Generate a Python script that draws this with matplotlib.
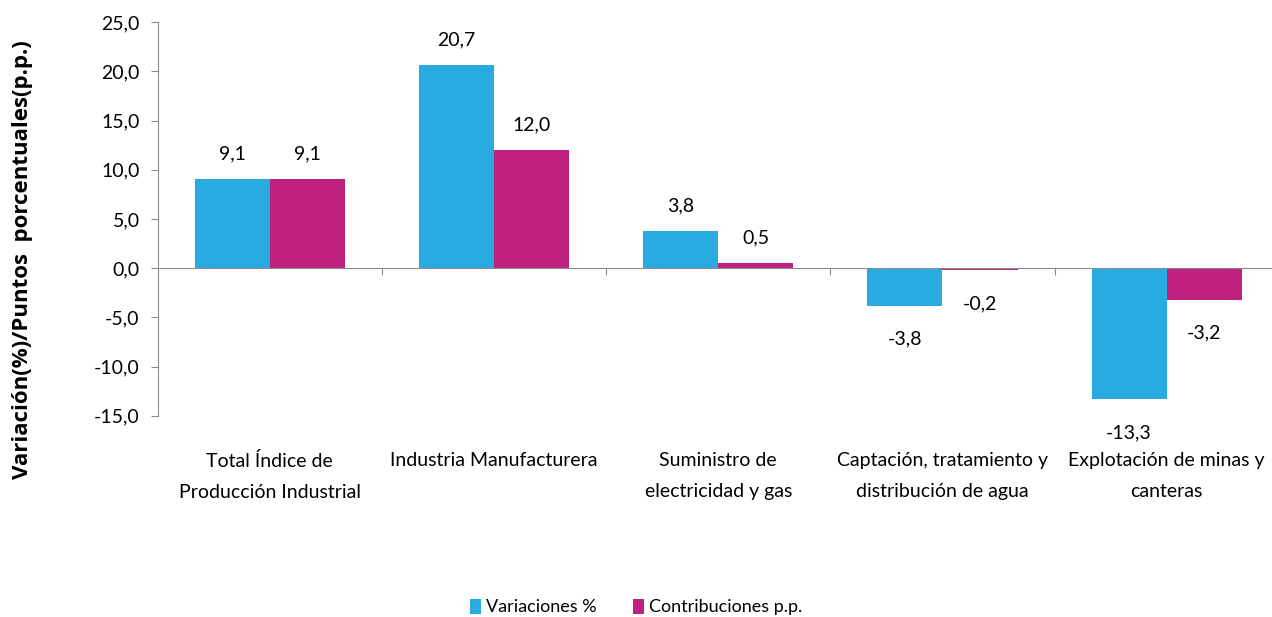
import numpy as np
import matplotlib.pyplot as plt
from matplotlib.transforms import blended_transform_factory

# Datos
categorias = ['Total Índice de\nProducción Industrial', 'Industria Manufacturera',
              'Suministro de\nelectricidad y gas', 'Captación, tratamiento y\ndistribución de agua',
              'Explotación de minas y\ncanteras']
variaciones = [9.1, 20.7, 3.8, -3.8, -13.3]
contribuciones = [9.1, 12.0, 0.5, -0.2, -3.2]

azul = '#29ABE2'
magenta = '#C02080'

plt.rcParams['font.family'] = ['Lato', 'DejaVu Sans']

fig = plt.figure(figsize=(12.72, 6.17), dpi=100)
ax = fig.add_axes([0.124, 0.326, 0.876, 0.638])

x = np.arange(len(categorias))
w = 0.335
b1 = ax.bar(x - w / 2, variaciones, w, color=azul, label='Variaciones %')
b2 = ax.bar(x + w / 2, contribuciones, w, color=magenta, label='Contribuciones p.p.')

def etiquetas(barras, valores):
    for b, v in zip(barras, valores):
        off = 18 if v >= 0 else -24
        ax.annotate(f'{v:.1f}'.replace('.', ','), (b.get_x() + b.get_width() / 2, v),
                    xytext=(0, off), textcoords='offset points',
                    ha='center', va='center', fontsize=14)

etiquetas(b1, variaciones)
etiquetas(b2, contribuciones)

ax.set_xlim(-0.5, 4.47)
ax.set_ylim(-15, 25)
ax.set_yticks(np.arange(-15, 26, 5))
ax.set_yticklabels([f'{t:.1f}'.replace('.', ',') for t in np.arange(-15, 26, 5)], fontsize=14)

for s in ['top', 'right']:
    ax.spines[s].set_visible(False)
ax.spines['left'].set_color('#8c8c8c')
ax.spines['bottom'].set_position(('data', 0))
ax.spines['bottom'].set_color('#8c8c8c')
ax.tick_params(axis='y', colors='#8c8c8c', labelcolor='black', length=5, pad=8)

ax.set_xticks(np.arange(0.5, len(categorias) - 1, 1))
ax.set_xticklabels([])
ax.tick_params(axis='x', colors='#8c8c8c', length=5, direction='out')

trans = blended_transform_factory(ax.transData, ax.transAxes)
for i, c in enumerate(categorias):
    ax.text(i, -0.093, c, transform=trans, ha='center', va='top', fontsize=14,
            linespacing=2.0)

fig.text(0.018, 0.58, 'Variación(%)/Puntos  porcentuales(p.p.)', rotation=90,
         ha='center', va='center', fontsize=16, fontweight='bold',
         family=['Open Sans', 'DejaVu Sans'])

fig.legend(handles=[b1, b2], loc='center', bbox_to_anchor=(0.5, 0.016), ncol=2,
           frameon=False, fontsize=13, handlelength=0.6, handleheight=0.9,
           handletextpad=0.3, columnspacing=2.0)

fig.savefig('out.png', dpi=100)
